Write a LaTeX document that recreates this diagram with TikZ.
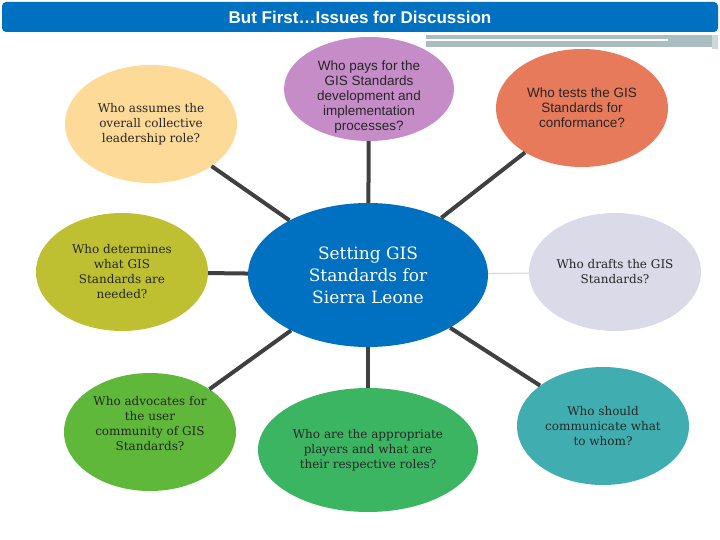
\documentclass[tikz,border=0pt]{standalone}
\usepackage{fontspec}
\setmainfont{DejaVu Serif}
\newfontfamily\arialfont{Liberation Sans}
\usepackage{tikz}
\usetikzlibrary{shapes.geometric, positioning}
\definecolor{titleblue}{RGB}{0, 112, 192}
\definecolor{barblue}{RGB}{170, 190, 194}
\definecolor{linkgray}{RGB}{64, 64, 64}
\definecolor{thinlink}{RGB}{205, 210, 220}
\definecolor{peach}{RGB}{253, 218, 151}
\definecolor{olive}{RGB}{190, 192, 50}
\definecolor{plum}{RGB}{197, 140, 200}
\definecolor{coral}{RGB}{230, 122, 90}
\definecolor{lavender}{RGB}{218, 218, 232}
\definecolor{leafgreen}{RGB}{96, 184, 58}
\definecolor{midgreen}{RGB}{60, 181, 99}
\definecolor{teal}{RGB}{64, 174, 176}

\begin{document}
\begin{tikzpicture}[x=1pt, y=-1pt,
    bubble/.style={ellipse, minimum width=172pt, minimum height=118pt,
                   inner sep=0pt, align=center, text=black!85,
                   font=\fontsize{12}{15}\selectfont},
    sansbubble/.style={bubble, font=\arialfont\fontsize{13.5}{15}\selectfont},
    sanstext/.style={align=center, inner sep=0pt, text=black!85,
                     font=\arialfont\fontsize{13.5}{15}\selectfont},
    serftext/.style={align=center, inner sep=0pt, text=black!85,
                     font=\fontsize{12}{15}\selectfont},
    link/.style={draw=linkgray, line width=4pt},
    lbl/.style={font=\arialfont\bfseries\fontsize{17}{19}\selectfont, text=white}
  ]
  \useasboundingbox (0,0) rectangle (720,540);

  % Title banner
  \node[fill=titleblue, rounded corners=4pt, minimum width=716pt,
        minimum height=30pt, lbl] (title) at (360,17) {But First…Issues for Discussion};
  \fill[barblue] (426,35) rectangle (712,47);
  \draw[white, line width=1.5pt] (426,40) -- (668,40);
  \fill[barblue!60] (712,35) rectangle (718,49);

  % Centre
  \node[ellipse, fill=titleblue, minimum width=240pt, minimum height=144pt,
        inner sep=0pt, align=center, text=white,
        font=\fontsize{17}{22}\selectfont] (hub) at (368,275)
        {Setting GIS\\Standards for\\Sierra Leone};

  % Left column
  \node[bubble, fill=peach] (lead) at (151,124)
        {Who assumes the\\overall collective\\leadership role?};
  \node[bubble, fill=olive] (needs) at (122,272)
        {Who determines\\what GIS\\Standards are\\needed?};
  \node[bubble, fill=leafgreen] (advocate) at (150,432) {};
  \node[serftext] (advocatetext) at (150,424)
        {Who advocates for\\the user\\community of GIS\\Standards?};

  % Middle column
  \node[bubble, fill=plum, minimum width=170pt, minimum height=104pt] (pays) at (369,89) {};
  \node[sanstext] (paystext) at (369,97)
        {Who pays for the\\GIS Standards\\development and\\implementation\\processes?};
  \node[bubble, fill=midgreen, minimum width=220pt, minimum height=124pt] (players) at (368,450)
        {Who are the appropriate\\players and what are\\their respective roles?};

  % Right column
  \node[sansbubble, fill=coral] (tests) at (582,108)
        {Who tests the GIS\\Standards for\\conformance?};
  \node[bubble, fill=lavender] (drafts) at (615,272)
        {Who drafts the GIS\\Standards?};
  \node[bubble, fill=teal] (talk) at (603,426)
        {Who should\\communicate what\\to whom?};

  % Spokes
  \draw[link] (hub) -- (lead);
  \draw[link] (hub) -- (needs);
  \draw[link] (hub) -- (advocate);
  \draw[link] (hub) -- (pays);
  \draw[link] (hub) -- (players);
  \draw[link] (hub) -- (tests);
  \draw[link] (hub) -- (talk);
  \draw[draw=thinlink, line width=1pt] (hub) -- (drafts);

\end{tikzpicture}
\end{document}
